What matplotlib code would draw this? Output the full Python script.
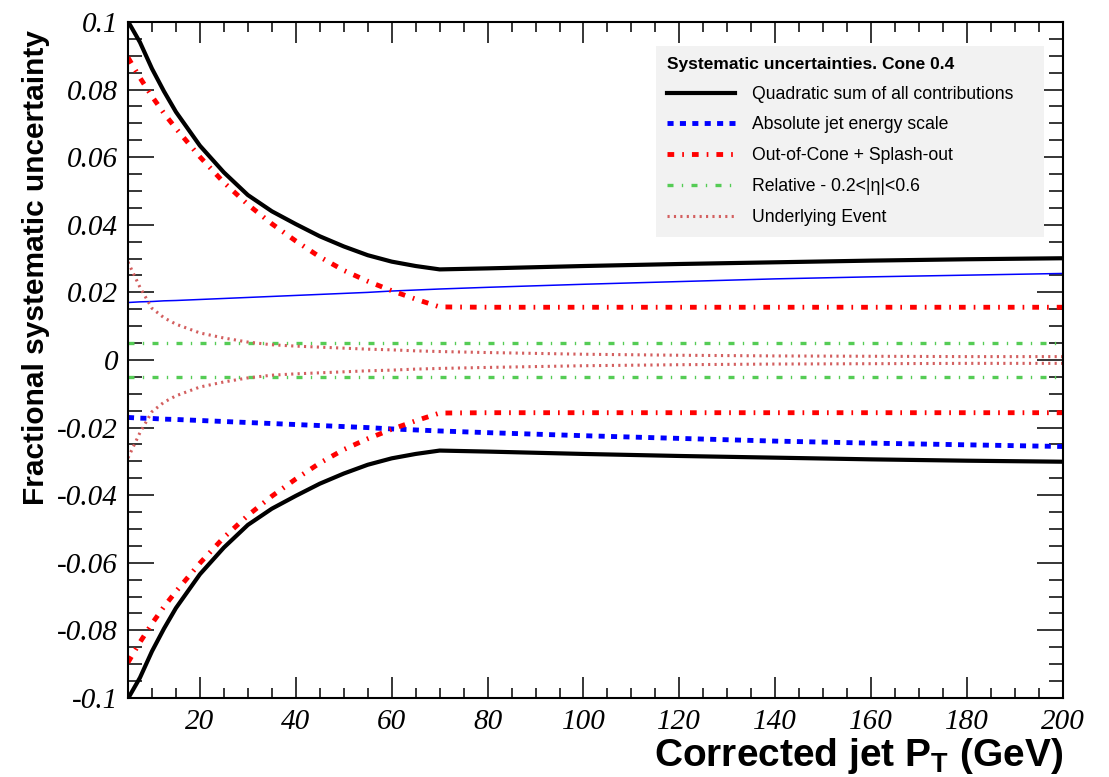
import matplotlib
matplotlib.use("Agg")
import numpy as np
import matplotlib.pyplot as plt
from matplotlib.ticker import MultipleLocator, FuncFormatter

# jet pT points (GeV)
pt = [5, 7.5, 10, 12.5, 15, 20, 25, 30, 35, 40, 45, 50, 55, 60, 65, 70,
      80, 100, 120, 140, 160, 180, 200]

# fractional uncertainties (symmetric, drawn as +/-)
total = [0.1002, 0.0940, 0.0862, 0.0795, 0.0734, 0.0634, 0.0555, 0.0488, 0.0440,
         0.0402, 0.0366, 0.0336, 0.0310, 0.0291, 0.0278, 0.0268,
         0.0271, 0.0278, 0.0284, 0.0289, 0.0294, 0.0298, 0.0301]
abs_jes = [0.0170, 0.0172, 0.0173, 0.0175, 0.0176, 0.0179, 0.0182, 0.0185, 0.0188,
           0.0191, 0.0194, 0.0197, 0.0200, 0.0204, 0.0207, 0.0210,
           0.0215, 0.0224, 0.0232, 0.0240, 0.0246, 0.0251, 0.0256]
out_of_cone = [0.0895, 0.0835, 0.0780, 0.0730, 0.0685, 0.0601, 0.0525, 0.0460, 0.0403,
               0.0352, 0.0305, 0.0265, 0.0233, 0.0205, 0.0180, 0.0157,
               0.0156, 0.0156, 0.0156, 0.0156, 0.0156, 0.0156, 0.0156]
relative = [0.005] * len(pt)
underlying = [0.0290, 0.0215, 0.0153, 0.0125, 0.0106, 0.0080, 0.0065, 0.0053, 0.0045,
              0.0041, 0.0038, 0.0035, 0.0032, 0.0030, 0.0027, 0.0025,
              0.0022, 0.0017, 0.0014, 0.0012, 0.0011, 0.0010, 0.0010]

labels = ["Quadratic sum of all contributions", "Absolute jet energy scale",
          "Out-of-Cone + Splash-out", "Relative - 0.2<|\u03b7|<0.6", "Underlying Event"]

plt.rcParams["font.family"] = "Liberation Sans"
plt.rcParams["mathtext.fontset"] = "custom"
plt.rcParams["mathtext.rm"] = "Liberation Sans:bold"
plt.rcParams["mathtext.bf"] = "Liberation Sans:bold"

pt = np.array(pt)
neg = lambda v: -np.array(v)

fig = plt.figure(figsize=(11.09, 7.77), dpi=100)
ax = fig.add_axes([0.1154, 0.1017, 0.8431, 0.87])

red_dd = (0, (1.38, 1.65, 0.35, 1.65))
green_dd = (0, (1.8, 2.5, 0.4, 2.5))
ue_dot = (0, (0.7, 1.4))

h_tot, = ax.plot(pt, total, color="black", lw=3.0)
ax.plot(pt, neg(total), color="black", lw=3.0)

ax.plot(pt, abs_jes, color="#0000ff", lw=1.1)
h_abs, = ax.plot(pt, neg(abs_jes), color="#0000ff", lw=3.5, ls=(0, (1.25, 1.3)))

h_ooc, = ax.plot(pt, out_of_cone, color="#ff0000", lw=3.5, ls=red_dd)
ax.plot(pt, neg(out_of_cone), color="#ff0000", lw=3.5, ls=red_dd)

h_rel, = ax.plot(pt, relative, color="#55cc55", lw=2.4, ls=green_dd)
ax.plot(pt, neg(relative), color="#55cc55", lw=2.4, ls=green_dd)

h_ue, = ax.plot(pt, underlying, color="#d35f5f", lw=2.2, ls=ue_dot)
ax.plot(pt, neg(underlying), color="#d35f5f", lw=2.2, ls=ue_dot)

ax.set_xlim(5, 200)
ax.set_ylim(-0.1, 0.1)

ax.xaxis.set_major_locator(MultipleLocator(20))
ax.xaxis.set_minor_locator(MultipleLocator(5))
ax.yaxis.set_major_locator(MultipleLocator(0.02))
ax.yaxis.set_minor_locator(MultipleLocator(0.005))
ax.yaxis.set_major_formatter(FuncFormatter(lambda v, p: "0" if abs(v) < 1e-9 else f"{v:g}"))

ax.tick_params(which="both", direction="in", top=True, right=True, width=1.1,
               labelfontfamily="Liberation Serif", labelsize=21)
ax.tick_params(axis="x", which="major", length=15, pad=8)
ax.tick_params(axis="x", which="minor", length=7.5)
ax.tick_params(axis="y", which="major", length=19, pad=7)
ax.tick_params(axis="y", which="minor", length=10)
for lab in ax.get_xticklabels() + ax.get_yticklabels():
    lab.set_fontstyle("italic")
for sp in ax.spines.values():
    sp.set_linewidth(1.5)

ax.set_xlabel("Corrected jet P$_\\mathbf{T}$ (GeV)", fontsize=28, fontweight="bold",
              loc="right", labelpad=1)
ax.set_ylabel("Fractional systematic uncertainty", fontsize=21.5, fontweight="bold",
              loc="top", labelpad=5)
ax.yaxis.label.set_y(0.988)

leg = ax.legend([h_tot, h_abs, h_ooc, h_rel, h_ue], labels,
                loc="upper left", bbox_to_anchor=(0.5647, 0.9645, 0.415, 0.0),
                mode="expand", borderaxespad=0, fontsize=12.7,
                title="Systematic uncertainties. Cone 0.4",
                title_fontproperties={"weight": "bold", "size": 12.5},
                alignment="left", frameon=True, fancybox=False,
                facecolor="#f2f2f2", edgecolor="none", framealpha=1,
                handlelength=3.85, handletextpad=1.0, labelspacing=0.78,
                borderpad=0.62)

fig.savefig("out.png", dpi=100)
